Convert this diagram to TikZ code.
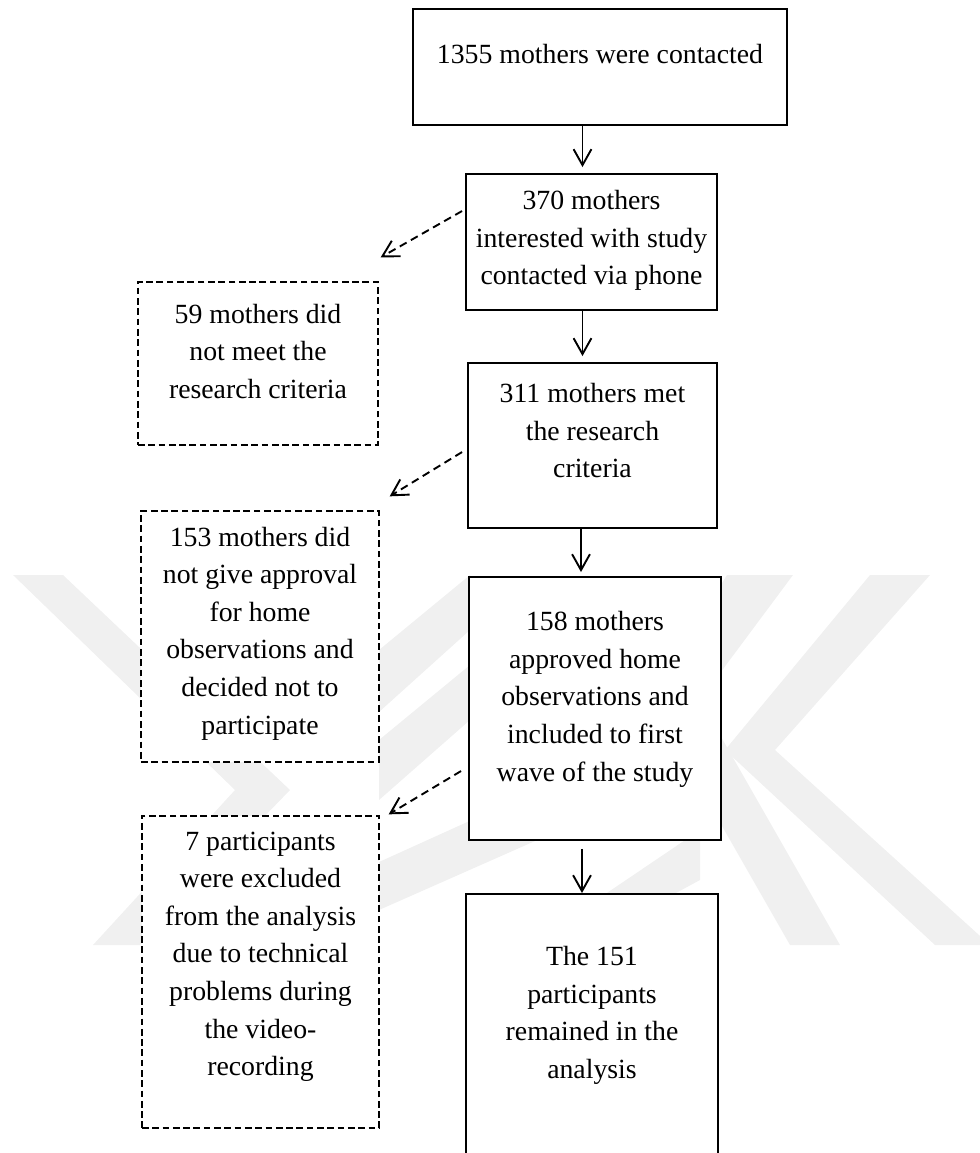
\documentclass[tikz,border=0pt]{standalone}
\usepackage{fontspec}
\setmainfont{Liberation Serif}
\usetikzlibrary{positioning,arrows.meta,calc}

\def\pxu{0.0157cm}

\tikzset{
  box/.style={draw, line width=0.85pt, fill=white, inner sep=0pt},
  dashbox/.style={draw, line width=0.6pt, dash pattern=on 3pt off 1.6pt, fill=white, inner sep=0pt},
  txt/.style={anchor=north, align=center, inner sep=0pt, font=\fontsize{12.4}{16.8}\selectfont},
  flow/.style={line width=0.85pt, -{Straight Barb[length=0.25cm,width=0.28cm]}},
  skip/.style={flow, dash pattern=on 3.5pt off 2.2pt},
  wm/.style={fill=black!6, draw=none}
}

\begin{document}
\begin{tikzpicture}[x=\pxu, y=-\pxu]
\useasboundingbox (0,0) rectangle (980,1153);

% faint watermark behind the chart
\begin{scope}
\clip (0,575) rectangle (980,945);
\fill[wm] (13,575) -- (63,575) -- (290,790) -- (140,945) -- (93,945) -- (235,790) -- cycle;
\fill[wm] (870,575) -- (930,575) -- (775,750) -- (990,945) -- (935,945) -- (725,750) -- cycle;
\fill[wm] (727,575) -- (793,575) -- (700,700) -- (840,945) -- (790,945) -- (650,700) -- cycle;
\fill[wm] (379,650) -- (470,575) -- (470,630) -- (379,712) -- cycle;
\fill[wm] (379,740) -- (470,665) -- (470,720) -- (379,800) -- cycle;
\fill[wm] (379,862) -- (560,780) -- (560,830) -- (379,910) -- cycle;
\fill[wm] (530,945) -- (700,830) -- (700,880) -- (580,945) -- cycle;
\end{scope}

% main column
\node[box, minimum width=374*\pxu, minimum height=116*\pxu] (contacted) at (600,67) {};
\node[box, minimum width=251*\pxu, minimum height=136*\pxu] (interested) at (591.5,242) {};
\node[box, minimum width=249*\pxu, minimum height=165*\pxu] (met) at (592.5,445.5) {};
\node[box, minimum width=252*\pxu, minimum height=263*\pxu] (approved) at (595,708.5) {};
\node[box, minimum width=252*\pxu, minimum height=316*\pxu] (remained) at (592,1052) {};

% dropped out
\node[dashbox, minimum width=240*\pxu, minimum height=163*\pxu] (notmet) at (258,363.5) {};
\node[dashbox, minimum width=238*\pxu, minimum height=251*\pxu] (noapproval) at (260,636.5) {};
\node[dashbox, minimum width=237*\pxu, minimum height=312*\pxu] (excluded) at (260.5,972) {};

% texts
\node[txt] (t-contacted) at ($(contacted.north)+(0,36)$) {1355 mothers were contacted};
\node[txt] (t-interested) at ($(interested.north)+(0,17)$) {370 mothers\\interested with study\\contacted via phone};
\node[txt] (t-met) at ($(met.north)+(0,21)$) {311 mothers met\\the research\\criteria};
\node[txt] (t-approved) at ($(approved.north)+(0,35)$) {158 mothers\\approved home\\observations and\\included to first\\wave of the study};
\node[txt] (t-remained) at ($(remained.north)+(0,53)$) {The 151\\participants\\remained in the\\analysis};
\node[txt] (t-notmet) at ($(notmet.north)+(0,22)$) {59 mothers did\\not meet the\\research criteria};
\node[txt] (t-noapproval) at ($(noapproval.north)+(0,16)$) {153 mothers did\\not give approval\\for home\\observations and\\decided not to\\participate};
\node[txt] (t-excluded) at ($(excluded.north)+(0,16)$) {7 participants\\were excluded\\from the analysis\\due to technical\\problems during\\the video-\\recording};

% arrows down
\coordinate (a1) at ($(interested.north)+(-9,-6)$);
\coordinate (a2) at ($(met.north)+(-10,-6)$);
\coordinate (a3) at ($(approved.north)+(-14,-4)$);
\coordinate (a4) at ($(approved.south)+(-13,8)$);
\draw[flow] (contacted.south -| a1) -- (a1);
\draw[flow] (interested.south -| a2) -- (a2);
\draw[flow] (met.south -| a3) -- (a3);
\draw[flow] (a4) -- (remained.north -| a4);

% arrows out
\draw[skip] ($(interested.north west)+(-3,38)$) -- ($(notmet.north east)+(2,-24)$);
\draw[skip] ($(met.north west)+(-5,90)$) -- ($(noapproval.north east)+(10,-14)$);
\draw[skip] ($(approved.north west)+(-7,195)$) -- ($(excluded.north east)+(9,-1)$);
\end{tikzpicture}
\end{document}
